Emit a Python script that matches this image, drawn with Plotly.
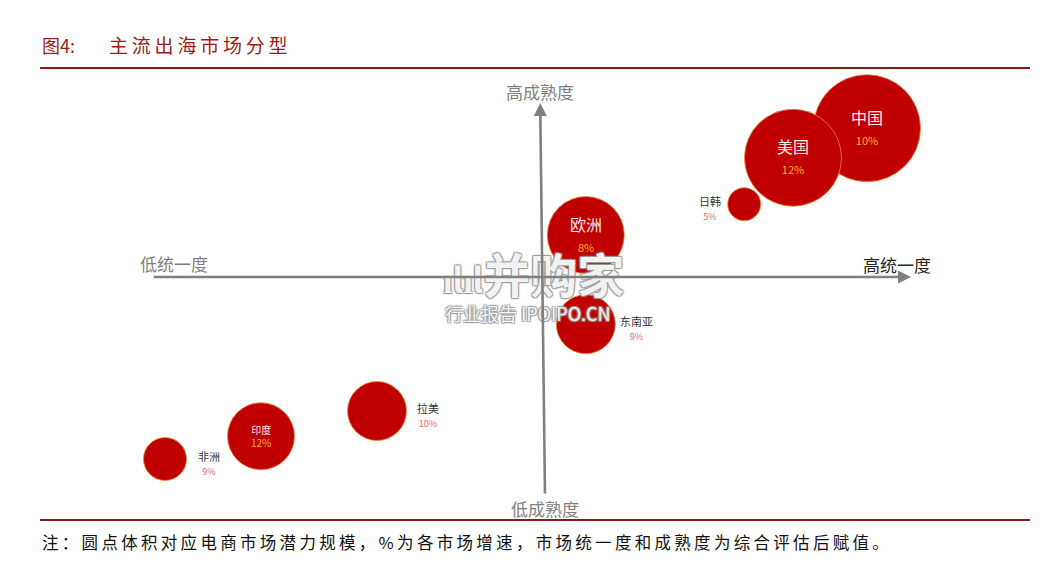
import plotly.graph_objects as go

# ---- data ----
markets = ["中国", "美国", "日韩", "欧洲", "东南亚", "拉美", "印度", "非洲"]
unity = [8.15, 6.30, 5.08, 1.12, 1.12, -4.10, -7.00, -9.40]        # 市场统一度 (x)
maturity = [3.72, 2.98, 1.82, 1.05, -1.18, -3.35, -3.98, -4.55]    # 成熟度 (y)
potential = [107, 97, 33, 77, 59, 59, 67, 43]                       # 潜力规模 (bubble diameter)
growth = [10, 12, 5, 8, 9, 10, 12, 9]                               # 增速 %
label_inside = [True, True, False, True, False, False, True, False]
label_side = ["", "", "left", "", "right", "right", "", "right"]

axis_texts = ["高成熟度", "低成熟度", "低统一度", "高统一度"]
title_text = "图4:    主流出海市场分型"
note_text = "注：圆点体积对应电商市场潜力规模，%为各市场增速，市场统一度和成熟度为综合评估后赋值。"
wm_main = "并购家"
wm_sub = "行业报告 IPOIPO.CN"

W, H = 1061, 563
FONT = "Noto Sans CJK SC"
RED = "#C00000"


def spaced(s):
    return "\u2009".join(list(s))


fig = go.Figure()
fig.add_trace(go.Scatter(
    x=unity, y=maturity, mode="markers",
    marker=dict(size=potential, sizemode="diameter", color=RED,
                line=dict(color="#E8893A", width=0.8), opacity=1),
    hoverinfo="text", text=markets, showlegend=False,
))

ann = []


def px(xp, yp):
    return xp / W, 1 - yp / H


# watermark (drawn first so labels stay above)
STROKE = "1px 1px 1px #9a9a9a, -1px -1px 1px #9a9a9a, 1px -1px 1px #9a9a9a, -1px 1px 1px #9a9a9a"
xx, yy = px(533, 272)
ann.append(dict(x=xx, y=yy, xref="paper", yref="paper",
                text=f"<span style='font-size:34px'>ılıl</span>{wm_main}", showarrow=False,
                xanchor="center", yanchor="middle",
                font=dict(family=FONT, size=47, color="rgba(255,255,255,0.9)",
                          shadow=STROKE, weight="bold")))
xx, yy = px(528, 313)
ann.append(dict(x=xx, y=yy, xref="paper", yref="paper", text=wm_sub, showarrow=False,
                xanchor="center", yanchor="middle",
                font=dict(family=FONT, size=18, color="rgba(255,255,255,0.9)",
                          shadow=STROKE)))

for name, x, y, d, g, inside, side in zip(markets, unity, maturity, potential,
                                          growth, label_inside, label_side):
    if inside:
        big = d > 70
        if big:
            txt = f"{name}<br><span style='font-size:11px;color:#FFB020'>{g}%</span>"
            ann.append(dict(x=x, y=y, text=txt, showarrow=False, yshift=2,
                            font=dict(family=FONT, size=16, color="#FFE8E8")))
        else:
            txt = f"{name}<br><span style='font-size:10px;color:#FFB020'>{g}%</span>"
            ann.append(dict(x=x, y=y, text=txt, showarrow=False, yshift=0,
                            font=dict(family=FONT, size=10, color="#FFE8E8")))
    else:
        if side == "right":
            xs = d / 2 + (22 if d < 50 else 21)
        else:
            xs = -(d / 2 + 18)
        txt = f"{name}<br><span style='font-size:9px;color:#E06C6C'>{g}%</span>"
        ann.append(dict(x=x, y=y, text=txt, showarrow=False, xshift=xs, yshift=-4,
                        font=dict(family=FONT, size=11, color="#333333")))

# quadrant axes with arrows
ann.append(dict(x=9.25, y=0, ax=-9.72, ay=0, xref="x", yref="y", axref="x", ayref="y",
                showarrow=True, arrowhead=2, arrowsize=1, arrowwidth=2.6,
                arrowcolor="#808080", text=""))
ann.append(dict(x=-0.02, y=4.35, ax=0.1, ay=-5.45, xref="x", yref="y", axref="x", ayref="y",
                showarrow=True, arrowhead=2, arrowsize=1, arrowwidth=2.6,
                arrowcolor="#808080", text=""))

axis_pos = [(540, 91, "#7F7F7F"), (545, 508, "#7F7F7F"),
            (174, 263, "#7F7F7F"), (897, 264, "#262626")]
for t, (xp, yp, c) in zip(axis_texts, axis_pos):
    xx, yy = px(xp, yp)
    ann.append(dict(x=xx, y=yy, xref="paper", yref="paper", text=t, showarrow=False,
                    xanchor="center", yanchor="middle",
                    font=dict(family=FONT, size=17, color=c)))

# title and note
t_head, t_body = title_text.split()
xx, yy = px(40, 45)
ann.append(dict(x=xx, y=yy, xref="paper", yref="paper", text=t_head, showarrow=False,
                xanchor="left", yanchor="middle",
                font=dict(family=FONT, size=18, color="#9B1B1B")))
xx, yy = px(107, 45)
ann.append(dict(x=xx, y=yy, xref="paper", yref="paper", text=spaced(t_body), showarrow=False,
                xanchor="left", yanchor="middle",
                font=dict(family=FONT, size=19, color="#9B1B1B")))
xx, yy = px(40, 542)
ann.append(dict(x=xx, y=yy, xref="paper", yref="paper", text=spaced(note_text), showarrow=False,
                xanchor="left", yanchor="middle",
                font=dict(family=FONT, size=16.5, color="#111111")))

shapes = [
    dict(type="line", xref="paper", yref="paper", x0=40 / W, x1=1030 / W,
         y0=1 - 68 / H, y1=1 - 68 / H, line=dict(color="#8B1A1A", width=2)),
    dict(type="line", xref="paper", yref="paper", x0=40 / W, x1=1030 / W,
         y0=1 - 520 / H, y1=1 - 520 / H, line=dict(color="#8B1A1A", width=2)),
]

fig.update_layout(
    width=W, height=H, autosize=False,
    margin=dict(l=0, r=0, t=0, b=0),
    paper_bgcolor="white", plot_bgcolor="white",
    xaxis=dict(range=[-541 / 40, 520 / 40], visible=False, fixedrange=True),
    yaxis=dict(range=[-286 / 40, 277 / 40], visible=False, fixedrange=True),
    annotations=ann, shapes=shapes,
    font=dict(family=FONT),
)

fig.write_html("out.html", config={"displayModeBar": False},
               post_script="document.body.style.margin='0';document.body.style.overflow='hidden';")
